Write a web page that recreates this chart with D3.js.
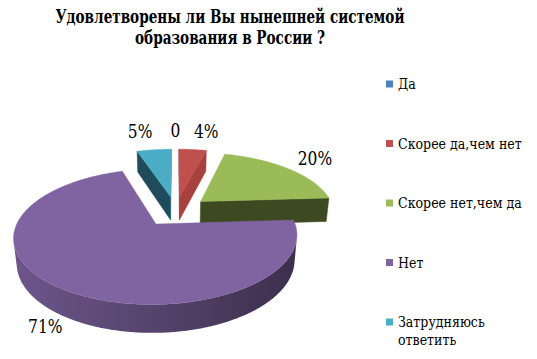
<!DOCTYPE html>
<html><head><meta charset="utf-8">
<script src="https://cdn.jsdelivr.net/npm/d3@7"></script>
<style>body{margin:0;background:#fff}svg{display:block}
text{font-family:"DejaVu Serif",serif}</style></head>
<body><svg id="c" width="537" height="359"></svg>
<script>
// ---- data ----
const categories = ["Да", "Скорее да,чем нет", "Скорее нет,чем да", "Нет", "Затрудняюсь ответить"];
const values = [0, 4, 20, 71, 5];
const valueLabels = ["0", "4%", "20%", "71%", "5%"];
const titleLines = ["Удовлетворены ли Вы нынешней системой", "образования в России ?"];
const colors = ["#4F81BD", "#C0504D", "#9BBB59", "#8064A2", "#4BACC6"];
const startFaceColors = ["#2F4B6E", "#8A3533", "#5D7035", "#4D3C62", "#1F4C5C"];
const endFaceColors = ["#3B6591", "#A8413E", "#3D4A21", "#4D3C62", "#2E7286"];

const svg = d3.select("#c");
// DejaVu Serif is wider than Times: draw text inside a horizontally condensed group
function condText(parent, x, y, str, size, f, anchor, weight) {
  const g = parent.append("g").attr("transform", `translate(${x},${y}) scale(${f},1)`);
  return g.append("text").attr("x", 0).attr("y", 0).attr("text-anchor", anchor || "start")
    .attr("font-size", size).attr("font-weight", weight || "normal").attr("fill", "#000").text(str);
}

// ---- 3D projection ----
const s = 0.4526, c = Math.sqrt(1 - s * s), k = 0.18, D = c / k, A0 = 134;
const F = A0 * D, cx = 175.5, cy = 211, h = 0.205, ex = 0.25;
const cam = [0, -D * c, D * s];
function P(p) { const [u, v, w] = p; const z = D + v * c - w * s; return [cx + F * u / z, cy - F * (v * s + w * c) / z]; }
function facing(p, n) { return (cam[0] - p[0]) * n[0] + (cam[1] - p[1]) * n[1] + (cam[2] - p[2]) * n[2] > 0; }
const line = d3.line();

const pie = d3.pie().sort(null).value(d => d).startAngle(0).endAngle(2 * Math.PI);
const arcs = pie(values).map((a, i) => {
  const am = (a.startAngle + a.endAngle) / 2;
  return Object.assign(a, { i, am, ou: ex * Math.sin(am), ov: ex * Math.cos(am) });
});
function pt(a, r, t, w) { return [a.ou + r * Math.sin(t), a.ov + r * Math.cos(t), w]; }

const defs = svg.append("defs");
const sideG = svg.append("g");
const topG = svg.append("g");

const drawn = arcs.filter(a => a.value > 0).sort((a, b) => b.ov - a.ov);
drawn.forEach(a => {
  const a0 = a.startAngle, a1 = a.endAngle;
  const N = Math.max(2, Math.ceil((a1 - a0) / 0.01));
  const ts = d3.range(N + 1).map(j => a0 + (a1 - a0) * j / N);
  const col = d3.color(colors[a.i]);
  const V0 = pt(a, 0, 0, 0), V1 = pt(a, 0, 0, -h);
  const faces = [
    { t: a0, n: [-Math.cos(a0), Math.sin(a0), 0], fill: startFaceColors[a.i] },
    { t: a1, n: [Math.cos(a1), -Math.sin(a1), 0], fill: endFaceColors[a.i] }
  ];
  faces.forEach(f => {
    if (!facing(V0, f.n)) return;
    const poly = [V0, pt(a, 1, f.t, 0), pt(a, 1, f.t, -h), V1].map(P);
    sideG.append("path").attr("d", line(poly) + "Z").attr("fill", f.fill)
      .attr("stroke", f.fill).attr("stroke-width", 0.5);
  });
  let runs = [], cur = [];
  ts.forEach(t => {
    const vis = facing(pt(a, 1, t, 0), [Math.sin(t), Math.cos(t), 0]);
    if (vis) cur.push(t); else { if (cur.length > 1) runs.push(cur); cur = []; }
  });
  if (cur.length > 1) runs.push(cur);
  runs.forEach((run, ri) => {
    const topPts = run.map(t => P(pt(a, 1, t, 0)));
    const botPts = run.map(t => P(pt(a, 1, t, -h))).reverse();
    const xs = topPts.map(p => p[0]);
    const gid = "g" + a.i + "_" + ri;
    const gx = d3.scaleLinear().domain([0, 1]).range([d3.min(xs), d3.max(xs)]);
    const gr = defs.append("linearGradient").attr("id", gid).attr("gradientUnits", "userSpaceOnUse")
      .attr("x1", gx(0)).attr("x2", gx(1)).attr("y1", 0).attr("y2", 0);
    [[0, 0.45], [0.45, 1.05], [0.8, 1.7], [1, 2.1]].forEach(([o, dk]) => {
      gr.append("stop").attr("offset", o).attr("stop-color", col.darker(dk).formatHex());
    });
    sideG.append("path").attr("d", line(topPts.concat(botPts)) + "Z").attr("fill", `url(#${gid})`);
  });
  const topPoly = [P(V0)].concat(ts.map(t => P(pt(a, 1, t, 0))));
  topG.append("path").attr("d", line(topPoly) + "Z").attr("fill", colors[a.i])
    .attr("stroke", colors[a.i]).attr("stroke-width", 0.4);
});

// ---- data labels ----
const labelG = svg.append("g");
arcs.forEach(a => {
  const sn = Math.sin(a.am), cs = Math.cos(a.am);
  let p, dy;
  if (cs >= 0) { p = P(pt(a, 1.12, a.am, 0)); dy = 5 - 12 * cs * cs; }
  else { p = P(pt(a, 1.0, a.am, -h)); dy = 17; }
  const anchor = sn > 0.05 ? "start" : (sn < -0.05 ? "end" : "middle");
  condText(labelG, p[0], p[1] + dy, valueLabels[a.i], 18, 0.86, anchor);
});

// ---- title ----
const titleG = svg.append("g");
titleLines.forEach((ln, i) => condText(titleG, 230, 23 + i * 21, ln, 18, 0.755, "middle", "bold"));

// ---- legend ----
const ly = d3.scaleLinear().domain([0, categories.length - 1]).range([89, 327]);
const lg = svg.append("g");
const legF = 0.84, legMax = 130;
categories.forEach((name, i) => {
  const y = ly(i);
  lg.append("rect").attr("x", 386).attr("y", y - 8.5).attr("width", 7).attr("height", 7).attr("fill", colors[i]);
  // word wrap measured in condensed width
  const probe = lg.append("text").attr("font-size", 15).attr("visibility", "hidden");
  const lines = [];
  let curWords = [];
  name.split(" ").forEach(wd => {
    const trial = curWords.concat([wd]).join(" ");
    probe.text(trial);
    if (probe.node().getComputedTextLength() * legF > legMax && curWords.length) {
      lines.push(curWords.join(" ")); curWords = [wd];
    } else curWords.push(wd);
  });
  lines.push(curWords.join(" "));
  probe.remove();
  lines.forEach((ln, j) => condText(lg, 398, y + j * 18, ln, 15, legF, "start"));
});
</script></body></html>
